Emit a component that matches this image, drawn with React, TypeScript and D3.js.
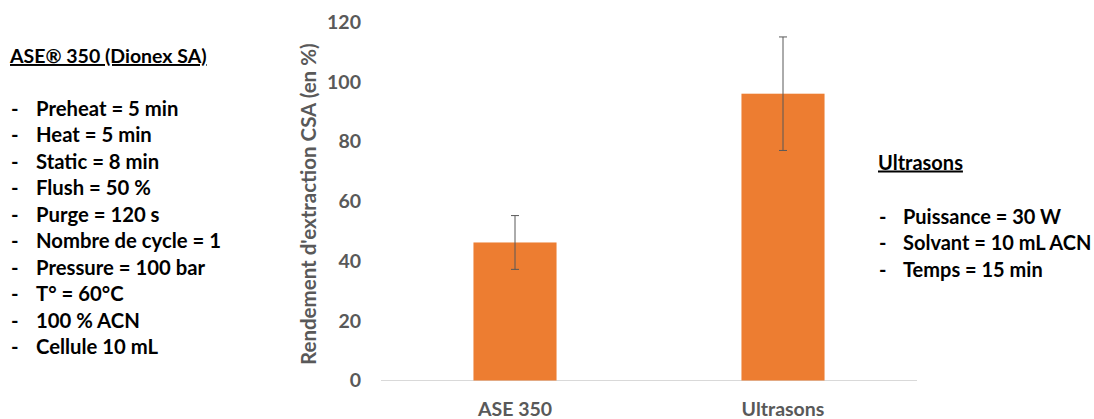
import React from "react";
import * as d3 from "d3";

const categories = ["ASE 350", "Ultrasons"];
const values = [46.2, 96];
const errors = [9, 19];
const yTicks = [0, 20, 40, 60, 80, 100, 120];
const yTitle = "Rendement d'extraction CSA (en %)";
const leftTitle = "ASE® 350 (Dionex SA)";
const leftItems = [
  "Preheat = 5 min",
  "Heat = 5 min",
  "Static = 8 min",
  "Flush = 50 %",
  "Purge = 120 s",
  "Nombre de cycle = 1",
  "Pressure = 100 bar",
  "T° = 60°C",
  "100 % ACN",
  "Cellule 10 mL",
];
const rightTitle = "Ultrasons";
const rightItems = ["Puissance = 30 W", "Solvant = 10 mL ACN", "Temps = 15 min"];

const W = 1094;
const H = 419;
const FONT = "Lato, 'Open Sans', sans-serif";

export default function App() {
  const x = d3.scaleBand<string>().domain(categories).range([381, 917]).paddingInner(0.69).paddingOuter(0.345);
  const y = d3.scaleLinear().domain([0, 120]).range([380.5, 22]);
  const bw = x.bandwidth();
  return (
    <svg width={W} height={H} style={{ position: "absolute", left: 0, top: 0 }} fontFamily={FONT}>
      <rect width={W} height={H} fill="#fff" />
      {/* left text block */}
      <text x={10} y={63} fontSize={19.5} fontWeight={700} fill="#000" textDecoration="underline">
        {leftTitle}
      </text>
      {leftItems.map((t, i) => (
        <g key={t}>
          <text x={11} y={115.5 + i * 26.5} fontSize={20.3} fontWeight={700} fill="#000">-</text>
          <text x={36} y={115.5 + i * 26.5} fontSize={20.3} fontWeight={700} fill="#000">{t}</text>
        </g>
      ))}
      {/* right text block */}
      <text x={878} y={169.5} fontSize={20} fontWeight={700} fill="#000" textDecoration="underline">
        {rightTitle}
      </text>
      {rightItems.map((t, i) => (
        <g key={t}>
          <text x={879} y={223.5 + i * 26.5} fontSize={20} fontWeight={700} fill="#000">-</text>
          <text x={903} y={223.5 + i * 26.5} fontSize={20} fontWeight={700} fill="#000">{t}</text>
        </g>
      ))}
      {/* baseline */}
      <line x1={381} x2={917} y1={y(0)} y2={y(0)} stroke="#D9D9D9" strokeWidth={1} />
      {/* y tick labels */}
      {yTicks.map((t) => (
        <text key={t} x={361} y={y(t)} dy="0.35em" textAnchor="end" fontSize={19.5} fontWeight={700} fill="#595959">
          {t}
        </text>
      ))}
      {/* y title */}
      <text
        transform={`translate(316,${(y(0) + y(120)) / 2 + 3}) rotate(-90)`}
        textAnchor="middle"
        fontSize={20.5}
        fontWeight={700}
        fill="#595959"
      >
        {yTitle}
      </text>
      {/* bars */}
      {categories.map((c, i) => (
        <rect key={c} x={x(c)} y={y(values[i])} width={bw} height={y(0) - y(values[i])} fill="#ED7D31" />
      ))}
      {/* error bars */}
      {categories.map((c, i) => {
        const cx = (x(c) as number) + bw / 2;
        const top = y(values[i] + errors[i]);
        const bot = y(values[i] - errors[i]);
        return (
          <g key={c} stroke="#595959" strokeWidth={1}>
            <line x1={cx} x2={cx} y1={top} y2={bot} />
            <line x1={cx - 4} x2={cx + 4} y1={top} y2={top} />
            <line x1={cx - 4} x2={cx + 4} y1={bot} y2={bot} />
          </g>
        );
      })}
      {/* x labels */}
      {categories.map((c) => (
        <text key={c} x={(x(c) as number) + bw / 2} y={416} textAnchor="middle" fontSize={19.5} fontWeight={700} fill="#595959">
          {c}
        </text>
      ))}
    </svg>
  );
}
